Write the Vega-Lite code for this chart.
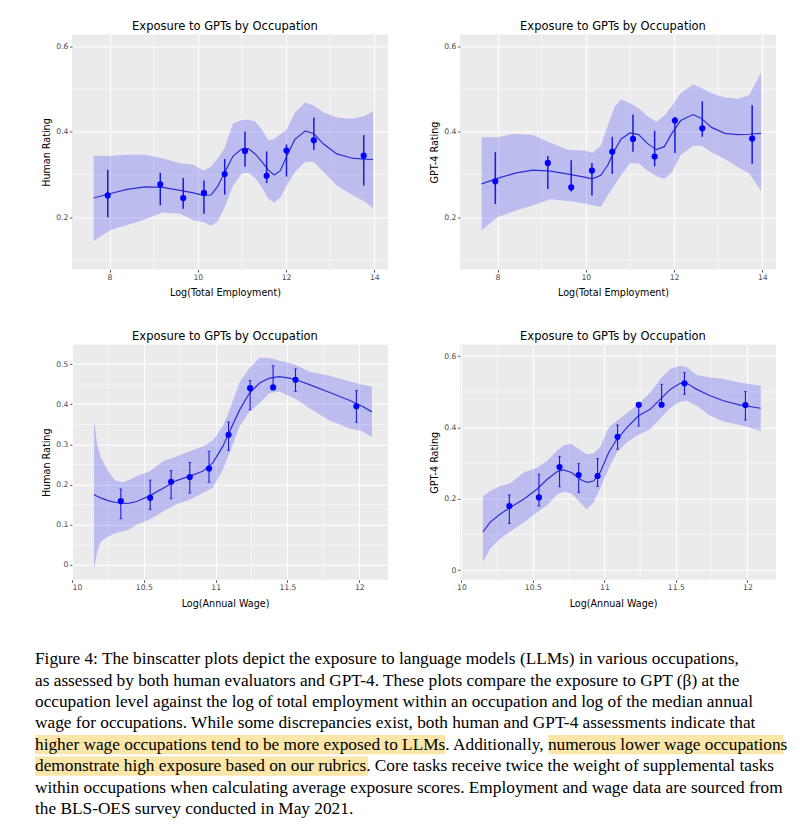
{
  "$schema": "https://vega.github.io/schema/vega-lite/v6.json",
  "padding": {"left": 35, "top": 20.5, "right": 0, "bottom": 0},
  "background": "white",
  "config": {
    "view": {"fill": "#EBEBEB", "stroke": null},
    "font": "DejaVu Sans",
    "axis": {"grid": true, "gridColor": "white", "gridWidth": 1.1, "domain": false, "tickColor": "#333333", "tickSize": 2.5, "tickWidth": 0.8, "labelColor": "#4D4D4D", "labelFontSize": 7.7, "labelPadding": 1.5, "labelFont": "DejaVu Sans", "titleFont": "DejaVu Sans", "titleFontSize": 9.6, "titleFontWeight": "normal", "titleColor": "black"},
    "axisY": {"minExtent": 17, "maxExtent": 17, "titlePadding": 3.5},
    "axisX": {"titlePadding": 6.5},
    "title": {"fontSize": 11.5, "fontWeight": "normal", "color": "black", "font": "DejaVu Sans", "offset": 2, "anchor": "middle", "dx": -5}
  },
  "datasets": {
    "tl_fit": [
      {"x": 7.64, "fit": 0.245, "lo": 0.144, "hi": 0.344},
      {"x": 8.0, "fit": 0.255, "lo": 0.169, "hi": 0.343},
      {"x": 8.4, "fit": 0.265, "lo": 0.182, "hi": 0.346},
      {"x": 8.8, "fit": 0.271, "lo": 0.195, "hi": 0.346},
      {"x": 9.2, "fit": 0.27, "lo": 0.211, "hi": 0.338},
      {"x": 9.6, "fit": 0.263, "lo": 0.208, "hi": 0.326},
      {"x": 9.9, "fit": 0.257, "lo": 0.193, "hi": 0.323},
      {"x": 10.13, "fit": 0.251, "lo": 0.189, "hi": 0.309},
      {"x": 10.3, "fit": 0.252, "lo": 0.18, "hi": 0.318},
      {"x": 10.45, "fit": 0.272, "lo": 0.19, "hi": 0.338},
      {"x": 10.6, "fit": 0.303, "lo": 0.222, "hi": 0.36},
      {"x": 10.8, "fit": 0.343, "lo": 0.274, "hi": 0.419},
      {"x": 11.0, "fit": 0.36, "lo": 0.303, "hi": 0.427},
      {"x": 11.15, "fit": 0.36, "lo": 0.304, "hi": 0.428},
      {"x": 11.3, "fit": 0.348, "lo": 0.292, "hi": 0.424},
      {"x": 11.45, "fit": 0.33, "lo": 0.27, "hi": 0.405},
      {"x": 11.6, "fit": 0.31, "lo": 0.243, "hi": 0.38},
      {"x": 11.73, "fit": 0.299, "lo": 0.234, "hi": 0.383},
      {"x": 11.87, "fit": 0.309, "lo": 0.246, "hi": 0.394},
      {"x": 12.02, "fit": 0.344, "lo": 0.275, "hi": 0.406},
      {"x": 12.2, "fit": 0.382, "lo": 0.306, "hi": 0.445},
      {"x": 12.44, "fit": 0.402, "lo": 0.33, "hi": 0.468},
      {"x": 12.63, "fit": 0.395, "lo": 0.329, "hi": 0.461},
      {"x": 12.85, "fit": 0.371, "lo": 0.306, "hi": 0.445},
      {"x": 13.15, "fit": 0.348, "lo": 0.274, "hi": 0.433},
      {"x": 13.5, "fit": 0.338, "lo": 0.252, "hi": 0.43},
      {"x": 13.76, "fit": 0.336, "lo": 0.238, "hi": 0.436},
      {"x": 13.97, "fit": 0.335, "lo": 0.221, "hi": 0.447}
    ],
    "tl_pts": [
      {"x": 7.96, "y": 0.251, "lo": 0.2, "hi": 0.311},
      {"x": 9.15, "y": 0.277, "lo": 0.228, "hi": 0.304},
      {"x": 9.67, "y": 0.245, "lo": 0.22, "hi": 0.292},
      {"x": 10.14, "y": 0.257, "lo": 0.208, "hi": 0.286},
      {"x": 10.61, "y": 0.301, "lo": 0.253, "hi": 0.336},
      {"x": 11.07, "y": 0.355, "lo": 0.318, "hi": 0.4},
      {"x": 11.56, "y": 0.297, "lo": 0.28, "hi": 0.354},
      {"x": 12.01, "y": 0.356, "lo": 0.295, "hi": 0.37},
      {"x": 12.63, "y": 0.38, "lo": 0.357, "hi": 0.433},
      {"x": 13.76, "y": 0.344, "lo": 0.274, "hi": 0.392}
    ],
    "tr_fit": [
      {"x": 7.64, "fit": 0.278, "lo": 0.169, "hi": 0.387},
      {"x": 8.0, "fit": 0.291, "lo": 0.2, "hi": 0.387},
      {"x": 8.4, "fit": 0.303, "lo": 0.215, "hi": 0.395},
      {"x": 8.8, "fit": 0.31, "lo": 0.228, "hi": 0.392},
      {"x": 9.2, "fit": 0.308, "lo": 0.242, "hi": 0.374},
      {"x": 9.6, "fit": 0.301, "lo": 0.238, "hi": 0.357},
      {"x": 9.97, "fit": 0.294, "lo": 0.232, "hi": 0.356},
      {"x": 10.15, "fit": 0.29, "lo": 0.228, "hi": 0.351},
      {"x": 10.34, "fit": 0.298, "lo": 0.224, "hi": 0.367},
      {"x": 10.5, "fit": 0.322, "lo": 0.252, "hi": 0.415},
      {"x": 10.65, "fit": 0.356, "lo": 0.275, "hi": 0.458},
      {"x": 10.8, "fit": 0.383, "lo": 0.298, "hi": 0.475},
      {"x": 11.0, "fit": 0.397, "lo": 0.326, "hi": 0.467},
      {"x": 11.2, "fit": 0.393, "lo": 0.326, "hi": 0.455},
      {"x": 11.4, "fit": 0.372, "lo": 0.309, "hi": 0.436},
      {"x": 11.6, "fit": 0.358, "lo": 0.296, "hi": 0.423},
      {"x": 11.78, "fit": 0.365, "lo": 0.29, "hi": 0.437},
      {"x": 11.95, "fit": 0.396, "lo": 0.305, "hi": 0.46},
      {"x": 12.15, "fit": 0.426, "lo": 0.345, "hi": 0.49},
      {"x": 12.43, "fit": 0.44, "lo": 0.367, "hi": 0.51},
      {"x": 12.62, "fit": 0.431, "lo": 0.367, "hi": 0.502},
      {"x": 12.85, "fit": 0.41, "lo": 0.352, "hi": 0.49},
      {"x": 13.15, "fit": 0.396, "lo": 0.336, "hi": 0.48},
      {"x": 13.45, "fit": 0.393, "lo": 0.317, "hi": 0.477},
      {"x": 13.7, "fit": 0.394, "lo": 0.303, "hi": 0.485},
      {"x": 13.97, "fit": 0.396, "lo": 0.262, "hi": 0.537}
    ],
    "tr_pts": [
      {"x": 7.95, "y": 0.284, "lo": 0.231, "hi": 0.352},
      {"x": 9.14, "y": 0.327, "lo": 0.266, "hi": 0.343},
      {"x": 9.67, "y": 0.27, "lo": 0.26, "hi": 0.333},
      {"x": 10.14, "y": 0.309, "lo": 0.251, "hi": 0.327},
      {"x": 10.6, "y": 0.353, "lo": 0.301, "hi": 0.388},
      {"x": 11.07, "y": 0.383, "lo": 0.353, "hi": 0.44},
      {"x": 11.56, "y": 0.342, "lo": 0.319, "hi": 0.402},
      {"x": 12.02, "y": 0.426, "lo": 0.35, "hi": 0.435},
      {"x": 12.64, "y": 0.408, "lo": 0.388, "hi": 0.471},
      {"x": 13.77, "y": 0.384, "lo": 0.325, "hi": 0.462}
    ],
    "bl_fit": [
      {"x": 10.153, "fit": 0.175, "lo": -0.012, "hi": 0.362},
      {"x": 10.175, "fit": 0.171, "lo": 0.032, "hi": 0.3},
      {"x": 10.2, "fit": 0.167, "lo": 0.058, "hi": 0.268},
      {"x": 10.25, "fit": 0.16, "lo": 0.07, "hi": 0.235},
      {"x": 10.3, "fit": 0.156, "lo": 0.079, "hi": 0.21},
      {"x": 10.356, "fit": 0.153, "lo": 0.084, "hi": 0.206},
      {"x": 10.4, "fit": 0.154, "lo": 0.089, "hi": 0.212},
      {"x": 10.45, "fit": 0.158, "lo": 0.1, "hi": 0.221},
      {"x": 10.54, "fit": 0.172, "lo": 0.113, "hi": 0.233},
      {"x": 10.634, "fit": 0.191, "lo": 0.133, "hi": 0.258},
      {"x": 10.727, "fit": 0.21, "lo": 0.151, "hi": 0.27},
      {"x": 10.82, "fit": 0.221, "lo": 0.162, "hi": 0.283},
      {"x": 10.91, "fit": 0.233, "lo": 0.179, "hi": 0.295},
      {"x": 10.98, "fit": 0.254, "lo": 0.192, "hi": 0.31},
      {"x": 11.05, "fit": 0.295, "lo": 0.237, "hi": 0.345},
      {"x": 11.097, "fit": 0.332, "lo": 0.279, "hi": 0.386},
      {"x": 11.167, "fit": 0.386, "lo": 0.345, "hi": 0.455},
      {"x": 11.236, "fit": 0.428, "lo": 0.382, "hi": 0.49},
      {"x": 11.306, "fit": 0.453, "lo": 0.403, "hi": 0.516},
      {"x": 11.375, "fit": 0.465, "lo": 0.428, "hi": 0.515},
      {"x": 11.444, "fit": 0.469, "lo": 0.432, "hi": 0.508},
      {"x": 11.514, "fit": 0.465, "lo": 0.42, "hi": 0.503},
      {"x": 11.56, "fit": 0.461, "lo": 0.413, "hi": 0.498},
      {"x": 11.653, "fit": 0.449, "lo": 0.39, "hi": 0.481},
      {"x": 11.79, "fit": 0.43, "lo": 0.36, "hi": 0.471},
      {"x": 11.93, "fit": 0.41, "lo": 0.34, "hi": 0.457},
      {"x": 12.02, "fit": 0.395, "lo": 0.333, "hi": 0.449},
      {"x": 12.088, "fit": 0.381, "lo": 0.318, "hi": 0.444}
    ],
    "bl_pts": [
      {"x": 10.34, "y": 0.159, "lo": 0.115, "hi": 0.189},
      {"x": 10.544, "y": 0.167, "lo": 0.138, "hi": 0.211},
      {"x": 10.69, "y": 0.207, "lo": 0.165, "hi": 0.235},
      {"x": 10.82, "y": 0.219, "lo": 0.179, "hi": 0.255},
      {"x": 10.954, "y": 0.24, "lo": 0.206, "hi": 0.283},
      {"x": 11.09, "y": 0.324, "lo": 0.285, "hi": 0.356},
      {"x": 11.24, "y": 0.44, "lo": 0.386, "hi": 0.459},
      {"x": 11.4, "y": 0.442, "lo": 0.442, "hi": 0.496},
      {"x": 11.556, "y": 0.461, "lo": 0.432, "hi": 0.488},
      {"x": 11.98, "y": 0.395, "lo": 0.355, "hi": 0.434}
    ],
    "br_fit": [
      {"x": 10.15, "fit": 0.107, "lo": 0.022, "hi": 0.207},
      {"x": 10.2, "fit": 0.134, "lo": 0.06, "hi": 0.222},
      {"x": 10.27, "fit": 0.157, "lo": 0.088, "hi": 0.235},
      {"x": 10.34, "fit": 0.176, "lo": 0.108, "hi": 0.243},
      {"x": 10.435, "fit": 0.199, "lo": 0.134, "hi": 0.274},
      {"x": 10.528, "fit": 0.227, "lo": 0.162, "hi": 0.287},
      {"x": 10.6, "fit": 0.255, "lo": 0.182, "hi": 0.307},
      {"x": 10.668, "fit": 0.276, "lo": 0.212, "hi": 0.335},
      {"x": 10.714, "fit": 0.281, "lo": 0.22, "hi": 0.35},
      {"x": 10.77, "fit": 0.274, "lo": 0.215, "hi": 0.354},
      {"x": 10.83, "fit": 0.255, "lo": 0.19, "hi": 0.337},
      {"x": 10.877, "fit": 0.246, "lo": 0.171, "hi": 0.325},
      {"x": 10.924, "fit": 0.25, "lo": 0.19, "hi": 0.328},
      {"x": 10.97, "fit": 0.274, "lo": 0.23, "hi": 0.345},
      {"x": 11.03, "fit": 0.33, "lo": 0.285, "hi": 0.4},
      {"x": 11.087, "fit": 0.367, "lo": 0.33, "hi": 0.419},
      {"x": 11.157, "fit": 0.4, "lo": 0.359, "hi": 0.44},
      {"x": 11.238, "fit": 0.433, "lo": 0.38, "hi": 0.466},
      {"x": 11.32, "fit": 0.451, "lo": 0.395, "hi": 0.498},
      {"x": 11.39, "fit": 0.479, "lo": 0.425, "hi": 0.536},
      {"x": 11.46, "fit": 0.507, "lo": 0.455, "hi": 0.564},
      {"x": 11.53, "fit": 0.524, "lo": 0.472, "hi": 0.573},
      {"x": 11.576, "fit": 0.524, "lo": 0.475, "hi": 0.569},
      {"x": 11.646, "fit": 0.507, "lo": 0.461, "hi": 0.547},
      {"x": 11.74, "fit": 0.489, "lo": 0.433, "hi": 0.54},
      {"x": 11.832, "fit": 0.475, "lo": 0.417, "hi": 0.536},
      {"x": 11.95, "fit": 0.463, "lo": 0.407, "hi": 0.526},
      {"x": 12.093, "fit": 0.454, "lo": 0.39, "hi": 0.517}
    ],
    "br_pts": [
      {"x": 10.335, "y": 0.18, "lo": 0.131, "hi": 0.211},
      {"x": 10.542, "y": 0.204, "lo": 0.18, "hi": 0.269},
      {"x": 10.686, "y": 0.289, "lo": 0.234, "hi": 0.319},
      {"x": 10.82, "y": 0.267, "lo": 0.218, "hi": 0.299},
      {"x": 10.952, "y": 0.264, "lo": 0.235, "hi": 0.313},
      {"x": 11.092, "y": 0.374, "lo": 0.339, "hi": 0.407},
      {"x": 11.24, "y": 0.464, "lo": 0.404, "hi": 0.466},
      {"x": 11.4, "y": 0.464, "lo": 0.464, "hi": 0.521},
      {"x": 11.56, "y": 0.524, "lo": 0.493, "hi": 0.554},
      {"x": 11.986, "y": 0.463, "lo": 0.421, "hi": 0.501}
    ],
    "caption_lines": [
      {"line": 1, "text": "Figure 4: The binscatter plots depict the exposure to language models (LLMs) in various occupations,"},
      {"line": 2, "text": "as assessed by both human evaluators and GPT-4. These plots compare the exposure to GPT (β) at the"},
      {"line": 3, "text": "occupation level against the log of total employment within an occupation and log of the median annual"},
      {"line": 4, "text": "wage for occupations. While some discrepancies exist, both human and GPT-4 assessments indicate that"},
      {"line": 5, "text": "higher wage occupations tend to be more exposed to LLMs. Additionally, numerous lower wage occupations"},
      {"line": 6, "text": "demonstrate high exposure based on our rubrics. Core tasks receive twice the weight of supplemental tasks"},
      {"line": 7, "text": "within occupations when calculating average exposure scores. Employment and wage data are sourced from"},
      {"line": 8, "text": "the BLS-OES survey conducted in May 2021."}
    ],
    "caption_highlights": [
      {"line": 5, "start": 0, "end": 56.2},
      {"line": 5, "start": 70.3, "end": 102.5},
      {"line": 6, "start": 0, "end": 45.6}
    ]
  },
  "align": "all",
  "spacing": 41,
  "vconcat": [
    {
      "spacing": 33.3,
      "vconcat": [
        {
          "spacing": 40,
          "hconcat": [
            {
              "width": 316, "height": 235,
              "title": "Exposure to GPTs by Occupation",
              "layer": [
                {"data": {"values": [{"x": 9}, {"x": 11}, {"x": 13}]}, "mark": {"type": "rule", "color": "white", "strokeWidth": 0.55},
                 "encoding": {"x": {"field": "x", "type": "quantitative", "title": "Log(Total Employment)", "scale": {"domain": [7.15, 14.31], "nice": false, "zero": false}, "axis": {"values": [8, 10, 12, 14], "format": "~g", "titleX": 153}}}},
                {"data": {"values": [{"y": 0.1}, {"y": 0.3}, {"y": 0.5}]}, "mark": {"type": "rule", "color": "white", "strokeWidth": 0.55},
                 "encoding": {"y": {"field": "y", "type": "quantitative", "title": "Human Rating", "scale": {"domain": [0.078, 0.627], "nice": false, "zero": false}, "axis": {"values": [0.2, 0.4, 0.6], "format": "~g"}}}},
                {"data": {"name": "tl_fit"}, "mark": {"type": "area", "color": "#0000FF", "opacity": 0.2},
                 "encoding": {"x": {"field": "x", "type": "quantitative", "title": "Log(Total Employment)"}, "y": {"field": "lo", "type": "quantitative", "title": "Human Rating"}, "y2": {"field": "hi"}}},
                {"data": {"name": "tl_fit"}, "mark": {"type": "line", "color": "#2E2ED2", "strokeWidth": 1.2},
                 "encoding": {"x": {"field": "x", "type": "quantitative", "title": "Log(Total Employment)"}, "y": {"field": "fit", "type": "quantitative", "title": "Human Rating"}}},
                {"data": {"name": "tl_pts"}, "mark": {"type": "rule", "color": "#1A1AE0", "strokeWidth": 1.5},
                 "encoding": {"x": {"field": "x", "type": "quantitative", "title": "Log(Total Employment)"}, "y": {"field": "lo", "type": "quantitative", "title": "Human Rating"}, "y2": {"field": "hi"}}},
                {"data": {"name": "tl_pts"}, "mark": {"type": "point", "filled": true, "color": "#0000FF", "opacity": 1, "size": 38},
                 "encoding": {"x": {"field": "x", "type": "quantitative", "title": "Log(Total Employment)"}, "y": {"field": "y", "type": "quantitative", "title": "Human Rating"}}}
              ]
            },
            {
              "width": 316, "height": 235,
              "title": "Exposure to GPTs by Occupation",
              "layer": [
                {"data": {"values": [{"x": 9}, {"x": 11}, {"x": 13}]}, "mark": {"type": "rule", "color": "white", "strokeWidth": 0.55},
                 "encoding": {"x": {"field": "x", "type": "quantitative", "title": "Log(Total Employment)", "scale": {"domain": [7.15, 14.31], "nice": false, "zero": false}, "axis": {"values": [8, 10, 12, 14], "format": "~g", "titleX": 153}}}},
                {"data": {"values": [{"y": 0.1}, {"y": 0.3}, {"y": 0.5}]}, "mark": {"type": "rule", "color": "white", "strokeWidth": 0.55},
                 "encoding": {"y": {"field": "y", "type": "quantitative", "title": "GPT-4 Rating", "scale": {"domain": [0.078, 0.627], "nice": false, "zero": false}, "axis": {"values": [0.2, 0.4, 0.6], "format": "~g"}}}},
                {"data": {"name": "tr_fit"}, "mark": {"type": "area", "color": "#0000FF", "opacity": 0.2},
                 "encoding": {"x": {"field": "x", "type": "quantitative", "title": "Log(Total Employment)"}, "y": {"field": "lo", "type": "quantitative", "title": "GPT-4 Rating"}, "y2": {"field": "hi"}}},
                {"data": {"name": "tr_fit"}, "mark": {"type": "line", "color": "#2E2ED2", "strokeWidth": 1.2},
                 "encoding": {"x": {"field": "x", "type": "quantitative", "title": "Log(Total Employment)"}, "y": {"field": "fit", "type": "quantitative", "title": "GPT-4 Rating"}}},
                {"data": {"name": "tr_pts"}, "mark": {"type": "rule", "color": "#1A1AE0", "strokeWidth": 1.5},
                 "encoding": {"x": {"field": "x", "type": "quantitative", "title": "Log(Total Employment)"}, "y": {"field": "lo", "type": "quantitative", "title": "GPT-4 Rating"}, "y2": {"field": "hi"}}},
                {"data": {"name": "tr_pts"}, "mark": {"type": "point", "filled": true, "color": "#0000FF", "opacity": 1, "size": 38},
                 "encoding": {"x": {"field": "x", "type": "quantitative", "title": "Log(Total Employment)"}, "y": {"field": "y", "type": "quantitative", "title": "GPT-4 Rating"}}}
              ]
            }
          ]
        },
        {
          "spacing": 40,
          "hconcat": [
            {
              "width": 316, "height": 235,
              "title": "Exposure to GPTs by Occupation",
              "layer": [
                {"data": {"values": [{"x": 10.25}, {"x": 10.75}, {"x": 11.25}, {"x": 11.75}]}, "mark": {"type": "rule", "color": "white", "strokeWidth": 0.55},
                 "encoding": {"x": {"field": "x", "type": "quantitative", "title": "Log(Annual Wage)", "scale": {"domain": [10.0, 12.2], "nice": false, "zero": false}, "axis": {"values": [10, 10.5, 11, 11.5, 12], "format": "~g", "titleX": 153}}}},
                {"data": {"values": [{"y": 0.05}, {"y": 0.15}, {"y": 0.25}, {"y": 0.35}, {"y": 0.45}]}, "mark": {"type": "rule", "color": "white", "strokeWidth": 0.55},
                 "encoding": {"y": {"field": "y", "type": "quantitative", "title": "Human Rating", "scale": {"domain": [-0.037, 0.548], "nice": false, "zero": false}, "axis": {"values": [0, 0.1, 0.2, 0.3, 0.4, 0.5], "format": "~g"}}}},
                {"data": {"name": "bl_fit"}, "mark": {"type": "area", "color": "#0000FF", "opacity": 0.2},
                 "encoding": {"x": {"field": "x", "type": "quantitative", "title": "Log(Annual Wage)"}, "y": {"field": "lo", "type": "quantitative", "title": "Human Rating"}, "y2": {"field": "hi"}}},
                {"data": {"name": "bl_fit"}, "mark": {"type": "line", "color": "#2E2ED2", "strokeWidth": 1.2},
                 "encoding": {"x": {"field": "x", "type": "quantitative", "title": "Log(Annual Wage)"}, "y": {"field": "fit", "type": "quantitative", "title": "Human Rating"}}},
                {"data": {"name": "bl_pts"}, "mark": {"type": "errorbar", "color": "#1A1AE0", "thickness": 1.1, "ticks": {"size": 3}},
                 "encoding": {"x": {"field": "x", "type": "quantitative", "title": "Log(Annual Wage)"}, "y": {"field": "lo", "type": "quantitative", "title": "Human Rating"}, "y2": {"field": "hi"}}},
                {"data": {"name": "bl_pts"}, "mark": {"type": "point", "filled": true, "color": "#0000FF", "opacity": 1, "size": 38},
                 "encoding": {"x": {"field": "x", "type": "quantitative", "title": "Log(Annual Wage)"}, "y": {"field": "y", "type": "quantitative", "title": "Human Rating"}}}
              ]
            },
            {
              "width": 316, "height": 235,
              "title": "Exposure to GPTs by Occupation",
              "layer": [
                {"data": {"values": [{"x": 10.25}, {"x": 10.75}, {"x": 11.25}, {"x": 11.75}]}, "mark": {"type": "rule", "color": "white", "strokeWidth": 0.55},
                 "encoding": {"x": {"field": "x", "type": "quantitative", "title": "Log(Annual Wage)", "scale": {"domain": [9.99, 12.2], "nice": false, "zero": false}, "axis": {"values": [10, 10.5, 11, 11.5, 12], "format": "~g", "titleX": 153}}}},
                {"data": {"values": [{"y": 0.1}, {"y": 0.3}, {"y": 0.5}]}, "mark": {"type": "rule", "color": "white", "strokeWidth": 0.55},
                 "encoding": {"y": {"field": "y", "type": "quantitative", "title": "GPT-4 Rating", "scale": {"domain": [-0.027, 0.632], "nice": false, "zero": false}, "axis": {"values": [0, 0.2, 0.4, 0.6], "format": "~g"}}}},
                {"data": {"name": "br_fit"}, "mark": {"type": "area", "color": "#0000FF", "opacity": 0.2},
                 "encoding": {"x": {"field": "x", "type": "quantitative", "title": "Log(Annual Wage)"}, "y": {"field": "lo", "type": "quantitative", "title": "GPT-4 Rating"}, "y2": {"field": "hi"}}},
                {"data": {"name": "br_fit"}, "mark": {"type": "line", "color": "#2E2ED2", "strokeWidth": 1.2},
                 "encoding": {"x": {"field": "x", "type": "quantitative", "title": "Log(Annual Wage)"}, "y": {"field": "fit", "type": "quantitative", "title": "GPT-4 Rating"}}},
                {"data": {"name": "br_pts"}, "mark": {"type": "errorbar", "color": "#1A1AE0", "thickness": 1.1, "ticks": {"size": 3}},
                 "encoding": {"x": {"field": "x", "type": "quantitative", "title": "Log(Annual Wage)"}, "y": {"field": "lo", "type": "quantitative", "title": "GPT-4 Rating"}, "y2": {"field": "hi"}}},
                {"data": {"name": "br_pts"}, "mark": {"type": "point", "filled": true, "color": "#0000FF", "opacity": 1, "size": 38},
                 "encoding": {"x": {"field": "x", "type": "quantitative", "title": "Log(Annual Wage)"}, "y": {"field": "y", "type": "quantitative", "title": "GPT-4 Rating"}}}
              ]
            }
          ]
        }
      ]
    },
    {
      "width": 745,
      "height": {"step": 21.4},
      "view": {"fill": "transparent", "stroke": null},
      "layer": [
        {"data": {"name": "caption_highlights"}, "mark": {"type": "rect", "color": "#F9E6A8", "opacity": 1},
         "encoding": {
           "y": {"field": "line", "type": "ordinal", "axis": null, "scale": {"domain": [1, 2, 3, 4, 5, 6, 7, 8], "paddingInner": 0.1, "paddingOuter": 0}},
           "x": {"field": "start", "type": "quantitative", "axis": null, "scale": {"domain": [0, 102], "range": [-37, 708], "nice": false, "zero": false}},
           "x2": {"field": "end"}}},
        {"data": {"name": "caption_lines"}, "mark": {"type": "text", "align": "left", "baseline": "middle", "font": "Liberation Serif", "fontSize": 17.3, "color": "black"},
         "encoding": {
           "y": {"field": "line", "type": "ordinal", "axis": null},
           "x": {"datum": 0, "type": "quantitative", "axis": null},
           "text": {"field": "text"}}}
      ]
    }
  ]
}
